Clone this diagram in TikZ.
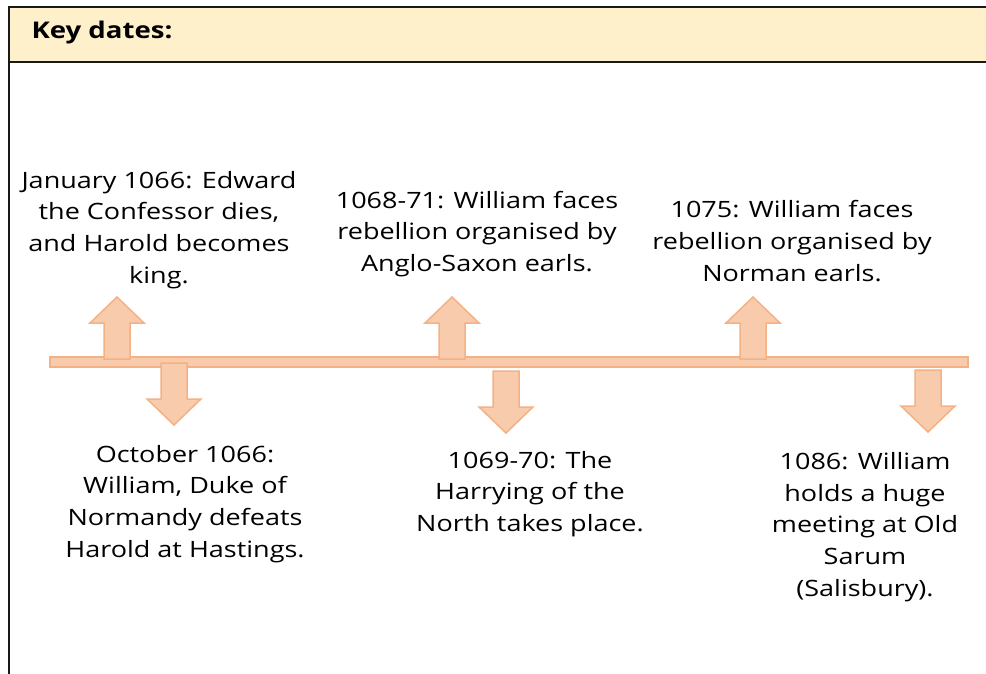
\documentclass[tikz,border=0pt]{standalone}
\usepackage{fontspec}
\setmainfont{Open Sans}[FakeStretch=1.2]
\definecolor{hdrfill}{HTML}{FFF0CC}
\definecolor{arrfill}{HTML}{F8CBAD}
\definecolor{arrline}{HTML}{F4B183}
\tikzset{
  frameline/.style={line width=2.5pt, draw=black!90},
  arrowstyle/.style={fill=arrfill, draw=arrline, line width=1.5pt, line join=miter},
  datetext/.style={align=center, font=\fontsize{22.5}{31.8}\selectfont, inner sep=0pt},
  uparrowpic/.pic={\path[arrowstyle] (-13,0) -- (-13,-36) -- (-27,-36) -- (0,-62) -- (27,-36) -- (13,-36) -- (13,0) -- cycle;},
  downarrowpic/.pic={\path[arrowstyle] (-13,0) -- (-13,36) -- (-27,36) -- (0,62) -- (27,36) -- (13,36) -- (13,0) -- cycle;}
}
\begin{document}
\begin{tikzpicture}[x=1pt,y=-1pt]
\useasboundingbox (0,0) rectangle (986,674);
% header
\fill[hdrfill] (9,7) rectangle (990,62);
\draw[frameline] (9,680) -- (9,7) -- (990,7);
\draw[frameline] (9,62) -- (990,62);
\node[anchor=west, font=\fontsize{23}{27}\selectfont\bfseries] (title) at (28,33) {Key dates:};
% timeline bar
\path[arrowstyle] (50,357) rectangle (968,367);
\coordinate (bar) at (509,362);
% arrows
\pic at (117,359) {uparrowpic};
\pic at (452,359) {uparrowpic};
\pic at (753,359) {uparrowpic};
\pic at (174,363) {downarrowpic};
\pic at (506,371) {downarrowpic};
\pic at (928,370) {downarrowpic};
% texts
\node[datetext] (t1) at (159,230) {January 1066: Edward\\the Confessor dies,\\and Harold becomes\\king.};
\node[datetext] (t2) at (477,234) {1068-71: William faces\\rebellion organised by\\Anglo-Saxon earls.};
\node[datetext] (t3) at (792,241) {1075: William faces\\rebellion organised by\\Norman earls.};
\node[datetext] (b1) at (185,504) {October 1066:\\William, Duke of\\Normandy defeats\\Harold at Hastings.};
\node[datetext] (b2) at (530,494) {1069-70: The\\Harrying of the\\North takes place.};
\node[datetext] (b3) at (865,527) {1086: William\\holds a huge\\meeting at Old\\Sarum\\(Salisbury).};
\end{tikzpicture}
\end{document}
